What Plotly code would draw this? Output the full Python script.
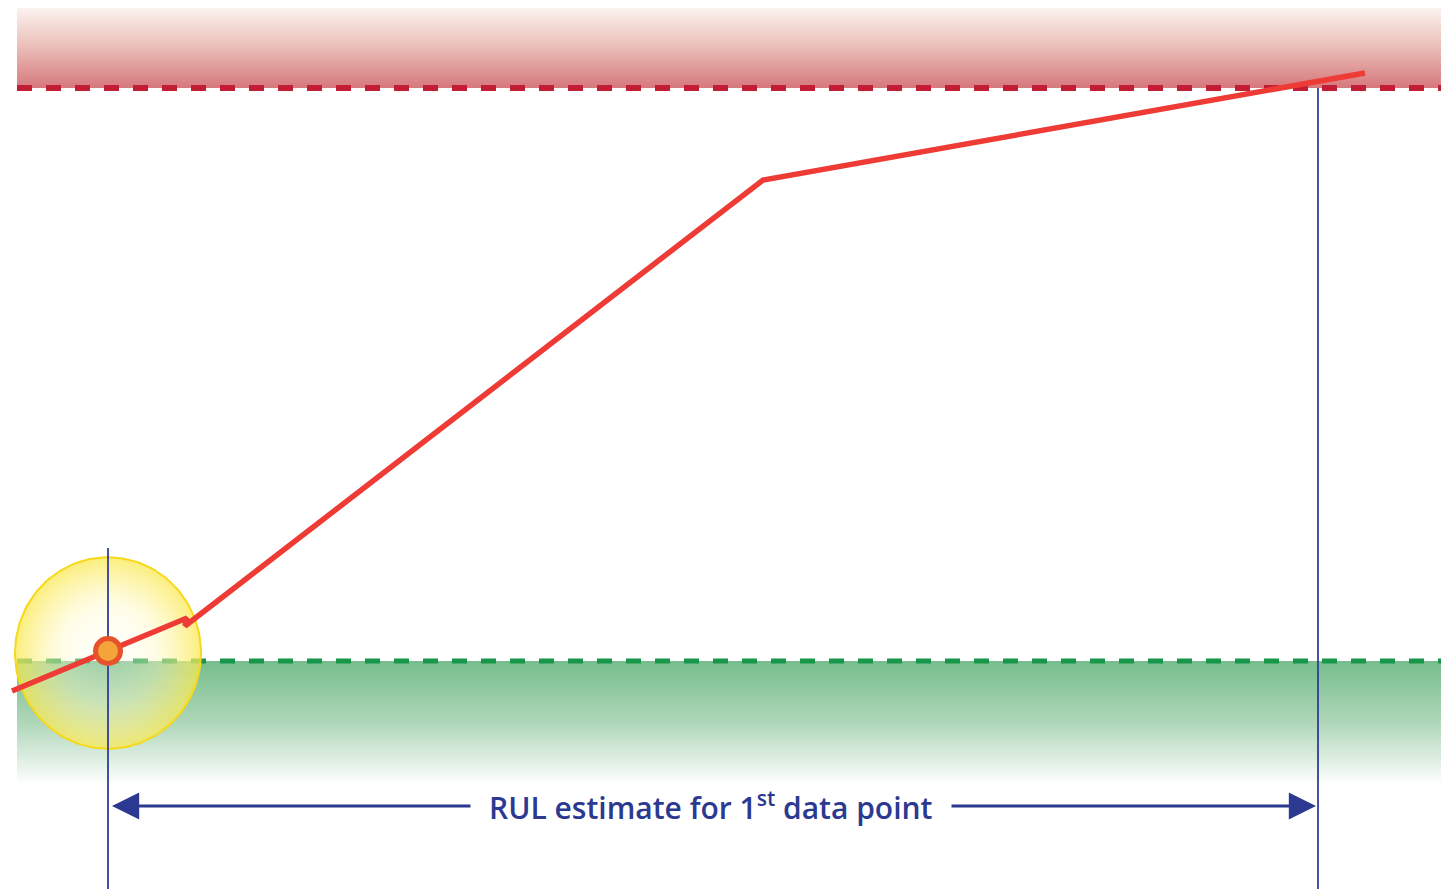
import numpy as np
import plotly.graph_objects as go

# ---- data (schematic units; x grows right, y grows downward like the picture) ----
trend_x = [12, 108, 187, 185, 763, 1365]
trend_y = [691, 651, 618, 626, 180, 73]

failure_level = 88      # red threshold
healthy_level = 661     # green threshold
band_left = 17
band_right = 1449
failure_band_top = 5
healthy_band_bottom = 785

first_point_x = [108]
first_point_y = [651]
halo_radius = 93
rul_end_x = 1318
arrow_y = 806
label_gap = [472, 950]
label_text = "RUL estimate for 1<sup>st</sup> data point"

W, H = 1449, 889
OFF = 8  # page body margin compensation
PLOT_H = H - OFF
fig = go.Figure()

# failure band (red gradient)
fig.add_trace(go.Scatter(
    x=[band_left, band_right + 20, band_right + 20, band_left, band_left],
    y=[failure_band_top, failure_band_top, failure_level, failure_level, failure_band_top],
    mode="lines", line=dict(width=0), fill="toself",
    fillgradient=dict(type="vertical", start=failure_band_top, stop=failure_level,
                      colorscale=[[0, "rgba(253,247,244,1)"], [0.5, "rgba(235,190,184,1)"],
                                  [1, "rgba(214,120,124,1)"]]),
    hoverinfo="skip", showlegend=False))

# healthy band (green gradient)
fig.add_trace(go.Scatter(
    x=[band_left, band_right + 20, band_right + 20, band_left, band_left],
    y=[healthy_level, healthy_level, healthy_band_bottom, healthy_band_bottom, healthy_level],
    mode="lines", line=dict(width=0), fill="toself",
    fillgradient=dict(type="vertical", start=healthy_level, stop=healthy_band_bottom,
                      colorscale=[[0, "rgba(118,189,140,1)"], [0.5, "rgba(175,215,185,1)"],
                                  [1, "rgba(255,255,255,1)"]]),
    hoverinfo="skip", showlegend=False))

# threshold dashed lines
fig.add_trace(go.Scatter(x=[band_left, band_right + 20], y=[failure_level, failure_level],
                         mode="lines", line=dict(color="#c21d35", width=6, dash="15px,14px"),
                         hoverinfo="skip", showlegend=False))
fig.add_trace(go.Scatter(x=[band_left, band_right + 20], y=[healthy_level, healthy_level],
                         mode="lines", line=dict(color="#18964a", width=5, dash="15px,14px"),
                         hoverinfo="skip", showlegend=False))

# yellow halo around the first data point
theta = np.linspace(0, 2 * np.pi, 181)
cx, cy = first_point_x[0], first_point_y[0] + 2
fig.add_trace(go.Scatter(
    x=cx + halo_radius * np.cos(theta), y=cy + halo_radius * 1.03 * np.sin(theta),
    mode="lines", line=dict(color="#f7d81a", width=2), fill="toself",
    fillgradient=dict(type="radial",
                      colorscale=[[0, "rgba(255,255,250,0.25)"], [0.5, "rgba(255,250,200,0.45)"],
                                  [1, "rgba(250,232,80,0.75)"]]),
    hoverinfo="skip", showlegend=False))

# blue vertical markers
fig.add_trace(go.Scatter(x=[first_point_x[0], first_point_x[0]], y=[548, H + 20],
                         mode="lines", line=dict(color="#2f3e9a", width=1.8),
                         hoverinfo="skip", showlegend=False))
fig.add_trace(go.Scatter(x=[rul_end_x, rul_end_x], y=[failure_level, H + 20],
                         mode="lines", line=dict(color="#2f3e9a", width=1.8),
                         hoverinfo="skip", showlegend=False))

# degradation trend
fig.add_trace(go.Scatter(x=trend_x, y=trend_y, mode="lines",
                         line=dict(color="#ee3b35", width=5.5),
                         hoverinfo="skip", showlegend=False))

# first data point marker
fig.add_trace(go.Scatter(x=first_point_x, y=first_point_y, mode="markers",
                         marker=dict(size=25, color="#f5a43a",
                                     line=dict(color="#e8522a", width=5)),
                         hoverinfo="skip", showlegend=False))

# RUL arrows
arrow_col = "#2b3990"
for tip, tail in [(first_point_x[0] + 4, label_gap[0]), (rul_end_x - 2, label_gap[1])]:
    fig.add_annotation(x=tip, y=arrow_y, ax=tail, ay=arrow_y,
                       xref="x", yref="y", axref="x", ayref="y", text="",
                       showarrow=True, arrowhead=2, arrowsize=1.7, arrowwidth=3.2,
                       arrowcolor=arrow_col)

# label
fig.add_annotation(x=(label_gap[0] + label_gap[1]) / 2, y=arrow_y, xref="x", yref="y",
                   text=label_text, showarrow=False,
                   font=dict(family="Open Sans", size=30, color=arrow_col, weight=600))

fig.update_layout(
    width=W - OFF, height=PLOT_H, margin=dict(l=0, r=0, t=0, b=0),
    paper_bgcolor="white", plot_bgcolor="white",
    xaxis=dict(range=[OFF, W], visible=False, fixedrange=True),
    yaxis=dict(range=[OFF + PLOT_H, OFF], visible=False, fixedrange=True),
)

fig.write_html("out.html")
